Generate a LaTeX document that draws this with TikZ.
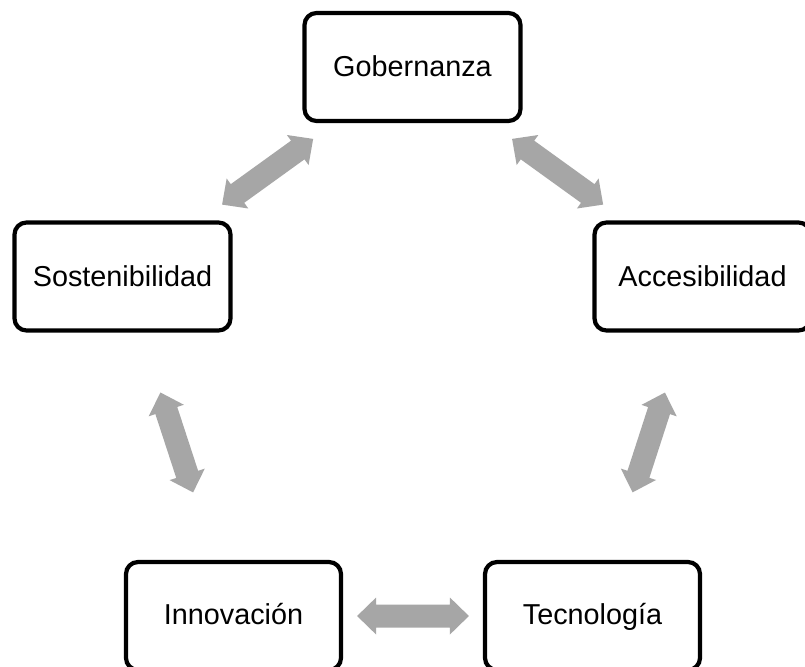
\documentclass[tikz,border=0pt]{standalone}
\usepackage{fontspec}
\setmainfont{Liberation Sans}
\usetikzlibrary{calc}
\definecolor{arrowgray}{HTML}{A6A6A6}
\tikzset{
  box/.style={draw=black, line width=4.2pt, rounded corners=12pt, fill=white,
    minimum width=216pt, minimum height=108pt, inner sep=0pt,
    text height=25.5pt, text depth=6pt,
    font=\fontsize{28.8}{34}\selectfont},
  lowbox/.style={box, minimum width=215pt, text depth=8.5pt},
}
\newcommand\biarrow[4]{%
  \path (#1) -- (#2) coordinate[pos=0] (bs) coordinate[pos=1] (be);
  \coordinate (ta) at ($(bs)!#3!(be)$);
  \coordinate (tb) at ($(be)!#4!(bs)$);
  \coordinate (ha) at ($(ta)!19pt!(tb)$);
  \coordinate (hb) at ($(tb)!19pt!(ta)$);
  \fill[arrowgray] (ta) -- ($(ha)!18.5pt!90:(tb)$) -- ($(ha)!11.5pt!90:(tb)$)
    -- ($(hb)!11.5pt!-90:(ta)$) -- ($(hb)!18.5pt!-90:(ta)$) -- (tb)
    -- ($(hb)!18.5pt!90:(ta)$) -- ($(hb)!11.5pt!90:(ta)$)
    -- ($(ha)!11.5pt!-90:(tb)$) -- ($(ha)!18.5pt!-90:(tb)$) -- cycle;
}
\begin{document}
\begin{tikzpicture}[x=1pt,y=-1pt]
\useasboundingbox (0,0) rectangle (805,666);
\clip (0,0) rectangle (805,666);
\fill[white] (0,0) rectangle (805,666);
\node[box] (gob) at (412.5,67) {Gobernanza};
\node[box] (sost) at (122.5,276.5) {Sostenibilidad};
\node[box] (acc) at (702.5,276.5) {Accesibilidad};
\node[lowbox] (inn) at (233.5,616) {Innovación};
\node[lowbox] (tec) at (592.5,616) {Tecnología};
\biarrow{sost}{gob}{27pt}{27pt}
\biarrow{gob}{acc}{27pt}{27pt}
\biarrow{sost}{inn}{63pt}{71pt}
\biarrow{acc}{tec}{63pt}{71pt}
\biarrow{inn}{tec}{14pt}{14pt}
\end{tikzpicture}
\end{document}
